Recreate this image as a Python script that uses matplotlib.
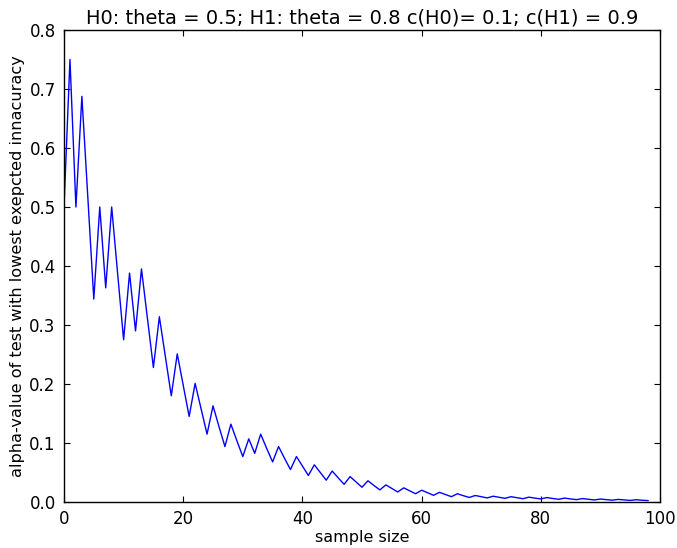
import matplotlib
matplotlib.use('agg')
import matplotlib.pyplot as plt

# sample sizes 0..98 and the alpha
sample_size = list(range(99))
alpha = [
    0.5, 0.75, 0.5, 0.6875, 0.516, 0.344, 0.5, 0.363, 0.5, 0.387,
    0.275, 0.388, 0.29, 0.395, 0.311, 0.228, 0.314, 0.247, 0.18, 0.251,
    0.198, 0.145, 0.201, 0.158, 0.115, 0.163, 0.128, 0.094, 0.132, 0.104,
    0.077, 0.107, 0.0825, 0.115, 0.091, 0.068, 0.094, 0.074, 0.055, 0.077,
    0.061, 0.045, 0.063, 0.05, 0.037, 0.0525, 0.041, 0.030, 0.043, 0.034,
    0.025, 0.036, 0.028, 0.0205, 0.029, 0.023, 0.017, 0.024, 0.019, 0.014,
    0.020, 0.0157, 0.0113, 0.0164, 0.0127, 0.009, 0.014, 0.0107, 0.0077, 0.011,
    0.009, 0.0069, 0.0098, 0.008, 0.0062, 0.009, 0.0073, 0.0056, 0.0082, 0.0066,
    0.0052, 0.0075, 0.006, 0.0046, 0.0066, 0.0052, 0.004, 0.0058, 0.0046, 0.0035,
    0.005, 0.004, 0.0031, 0.0044, 0.0035, 0.0027, 0.0038, 0.003, 0.0024,
]

title = 'H0: theta = 0.5; H1: theta = 0.8 c(H0)= 0.1; c(H1) = 0.9'

plt.rcParams['font.family'] = 'DejaVu Sans'
plt.rcParams['font.size'] = 12

fig = plt.figure(figsize=(6.77, 5.48), dpi=100, facecolor='white')
ax = fig.add_axes([64 / 677, 46 / 548, 596 / 677, 472 / 548])

ax.plot(sample_size, alpha, color='b', linewidth=1.0)

ax.set_xlim(0, 100)
ax.set_ylim(0, 0.8)
ax.set_xticks([0, 20, 40, 60, 80, 100])
ax.set_yticks([0.0, 0.1, 0.2, 0.3, 0.4, 0.5, 0.6, 0.7, 0.8])

ax.tick_params(direction='in', top=True, right=True, length=4, width=0.8,
               labelsize=12, pad=6)
for sp in ax.spines.values():
    sp.set_linewidth(1.0)

ax.set_title(title, fontsize=14, pad=5)
ax.set_xlabel('sample size', fontsize=11.5, labelpad=1)
ax.set_ylabel('alpha-value of test with lowest exepcted innacuracy',
              fontsize=11.6, labelpad=3)

plt.savefig('out.png', dpi=100, facecolor='white')
